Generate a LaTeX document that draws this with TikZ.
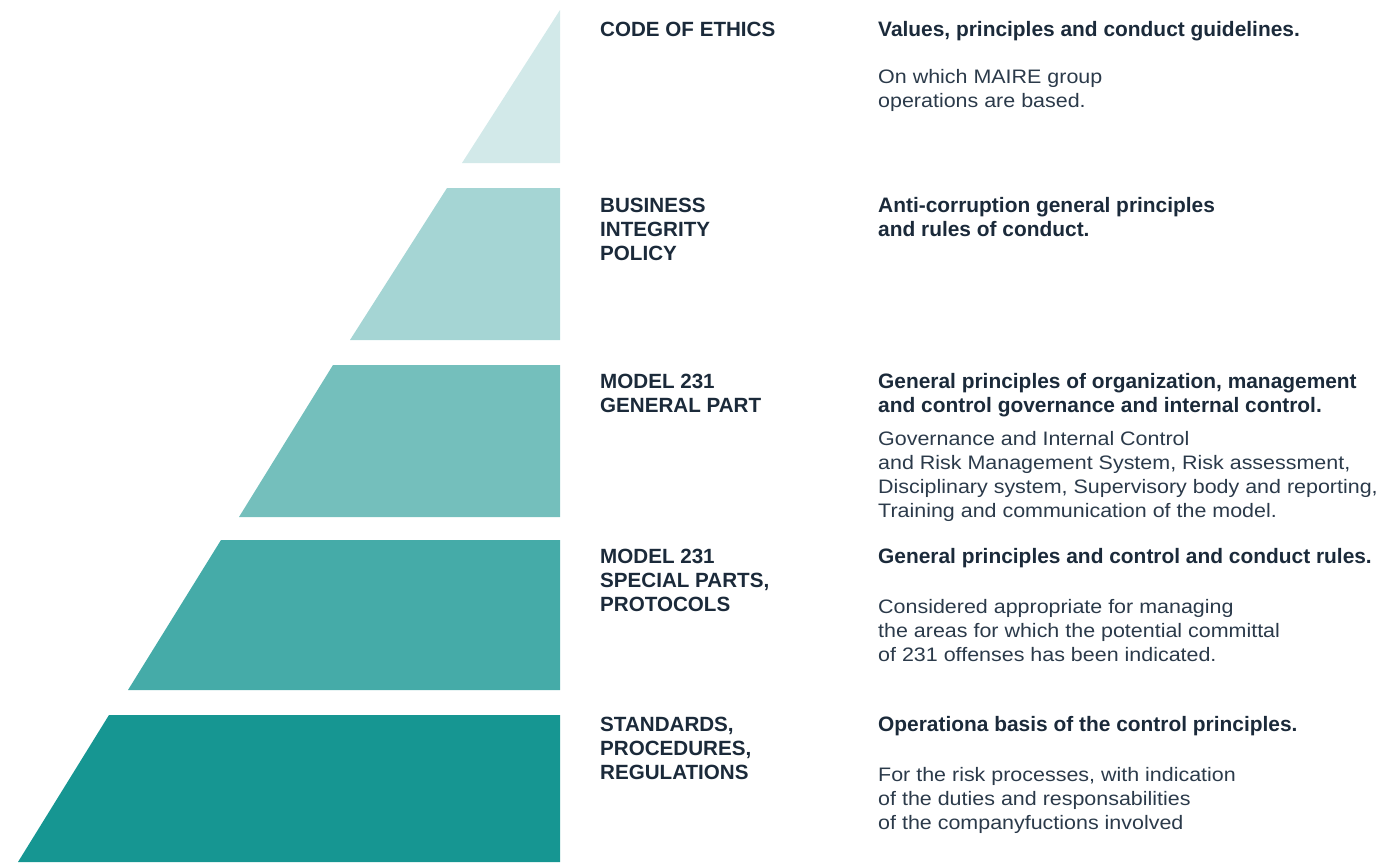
\documentclass[tikz,border=0pt]{standalone}
\usepackage{fontspec}
\setmainfont{Liberation Sans}
\newfontfamily\regfont[FakeStretch=1.10]{Liberation Sans}
\definecolor{tA}{HTML}{D2E9E9}
\definecolor{tB}{HTML}{A5D5D4}
\definecolor{tC}{HTML}{74BFBC}
\definecolor{tD}{HTML}{45ABA8}
\definecolor{tE}{HTML}{169692}
\definecolor{ink}{HTML}{1B2A3A}
\definecolor{inkl}{HTML}{2B3A4A}
\begin{document}
\begin{tikzpicture}[x=1pt,y=-1pt,
  lab/.style={anchor=base west,inner sep=0pt,text=ink,font=\fontsize{20.6}{24}\selectfont\bfseries},
  head/.style={anchor=base west,inner sep=0pt,text=ink,font=\fontsize{20.9}{24}\selectfont\bfseries},
  desc/.style={anchor=base west,inner sep=0pt,text=inkl,font=\regfont\fontsize{19.5}{24}\selectfont}]
\useasboundingbox (0,0) rectangle (1386,862);
% pyramid
\fill[tA] (560,10) -- (560,163) -- (462,163) -- cycle;
\fill[tB] (447,188) -- (560,188) -- (560,340) -- (350,340) -- cycle;
\fill[tC] (333,365) -- (560,365) -- (560,517) -- (239,517) -- cycle;
\fill[tD] (221,540) -- (560,540) -- (560,690) -- (128,690) -- cycle;
\fill[tE] (109,715) -- (560,715) -- (560,862) -- (18,862) -- cycle;
% tier 1
\node[lab] (l1) at (600,36) {CODE OF ETHICS};
\node[head] (h1) at (878,36) {Values, principles and conduct guidelines.};
\node[desc] (d1a) at (878,83) {On which MAIRE group};
\node[desc] (d1b) at (878,107) {operations are based.};
% tier 2
\node[lab] (l2a) at (600,212) {BUSINESS};
\node[lab] (l2b) at (600,236) {INTEGRITY};
\node[lab] (l2c) at (600,260) {POLICY};
\node[head] (h2a) at (878,212) {Anti-corruption general principles};
\node[head] (h2b) at (878,236) {and rules of conduct.};
% tier 3
\node[lab] (l3a) at (600,388) {MODEL 231};
\node[lab] (l3b) at (600,412) {GENERAL PART};
\node[head] (h3a) at (878,388) {General principles of organization, management};
\node[head] (h3b) at (878,412) {and control governance and internal control.};
\node[desc] (d3a) at (878,445) {Governance and Internal Control};
\node[desc] (d3b) at (878,469) {and Risk Management System, Risk assessment,};
\node[desc] (d3c) at (878,493) {Disciplinary system, Supervisory body and reporting,};
\node[desc] (d3d) at (878,517) {Training and communication of the model.};
% tier 4
\node[lab] (l4a) at (600,563) {MODEL 231};
\node[lab] (l4b) at (600,587) {SPECIAL PARTS,};
\node[lab] (l4c) at (600,611) {PROTOCOLS};
\node[head] (h4) at (878,563) {General principles and control and conduct rules.};
\node[desc] (d4a) at (878,613) {Considered appropriate for managing};
\node[desc] (d4b) at (878,637) {the areas for which the potential committal};
\node[desc] (d4c) at (878,661) {of 231 offenses has been indicated.};
% tier 5
\node[lab] (l5a) at (600,731) {STANDARDS,};
\node[lab] (l5b) at (600,755) {PROCEDURES,};
\node[lab] (l5c) at (600,779) {REGULATIONS};
\node[head] (h5) at (878,731) {Operationa basis of the control principles.};
\node[desc] (d5a) at (878,781) {For the risk processes, with indication};
\node[desc] (d5b) at (878,805) {of the duties and responsabilities};
\node[desc] (d5c) at (878,829) {of the companyfuctions involved};
\end{tikzpicture}
\end{document}
